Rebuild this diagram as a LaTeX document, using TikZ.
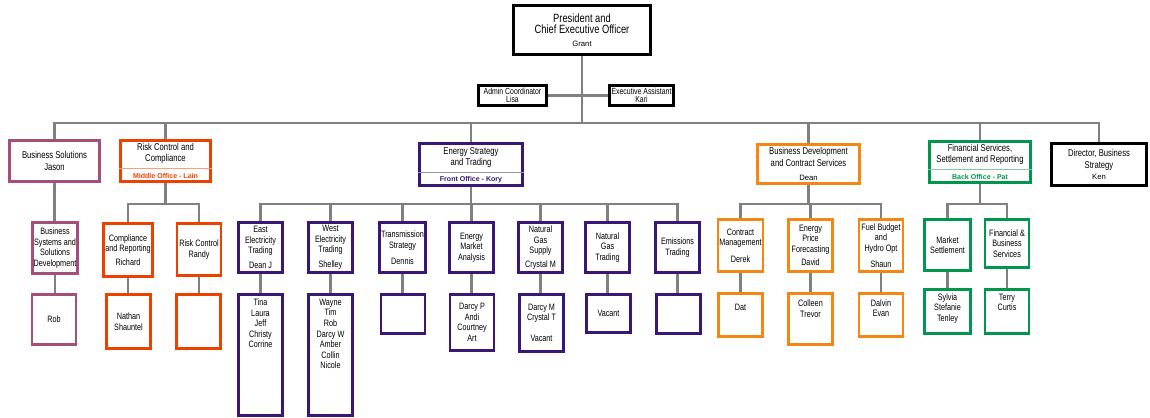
\documentclass[tikz,border=0pt]{standalone}
\usepackage{fontspec}
\setmainfont{Liberation Sans}
\newfontfamily\condfont{Liberation Sans}[FakeStretch=0.78]
\usetikzlibrary{positioning}
\definecolor{wiregray}{RGB}{128,128,128}
\definecolor{solpink}{RGB}{166,77,121}
\definecolor{riskred}{RGB}{238,65,0}
\definecolor{tradepurple}{RGB}{58,22,118}
\definecolor{devorange}{RGB}{246,134,20}
\definecolor{fingreen}{RGB}{0,150,75}
\newcommand\orgunitfont{\condfont\fontsize{6.6}{7.5}\selectfont}
\newcommand\orgheadfont{\condfont\fontsize{7}{8}\selectfont}
\newcommand\orgnamefont{\normalfont\fontsize{5.5}{6.5}\selectfont}
\newcommand\orgofficefont{\normalfont\bfseries\fontsize{5}{6}\selectfont}
\pgfdeclarelayer{background}
\pgfsetlayers{background,main}
\begin{document}
\begin{tikzpicture}[x=0.025cm, y=-0.025cm,
    unit/.style={draw, line width=2pt, fill=white, inner sep=1pt, align=center, font=\orgunitfont, minimum width=1.1cm},
    head/.style={unit, font=\orgheadfont},
    txt/.style={inner sep=1pt, align=center, font=\orgunitfont},
    office/.style={inner sep=0pt, minimum height=10pt, font=\orgofficefont},
    wire/.style={draw=wiregray, line width=2pt},
    sepline/.style={line width=0.6pt}]
    \useasboundingbox (0,0) rectangle (1150,418);
    % top of the chart
    \node[unit, minimum width=3.425cm, minimum height=1.225cm, line width=2.4pt, font=\condfont\fontsize{8.5}{8}\selectfont] (ceo) at (582,30) {President and\\Chief Executive Officer\\[1pt]{\orgnamefont Grant}};
    \node[unit, minimum width=1.7cm, minimum height=0.5cm, inner sep=0.5pt, font=\condfont\fontsize{6.3}{5.6}\selectfont] (admin) at (512.5,95.5) {Admin Coordinator\\Lisa};
    \node[unit, minimum width=1.6cm, minimum height=0.5cm, inner sep=0.5pt, font=\condfont\fontsize{6.3}{5.6}\selectfont] (exec) at (641.5,95.5) {Executive Assistant\\Kari};
    % departments
    \node[head, draw=solpink, minimum width=2.25cm, minimum height=1.025cm] (bizsol) at (54.5,161) {Business Solutions\\Jason};
    \node[head, draw=riskred, minimum width=2.25cm, minimum height=1.025cm] (risk) at (165.5,161) {};
    \node[txt, font=\orgheadfont, below=2pt of risk.north] (riskt) {Risk Control and\\Compliance};
    \node[office, text=riskred, above=0pt of risk.south] (risko) {Middle Office - Lain};
    \draw[sepline, riskred!50] (risk.west |- risko.north) -- (risk.east |- risko.north);
    \node[head, draw=tradepurple, minimum width=2.575cm, minimum height=1.05cm] (energy) at (471,164.5) {};
    \node[txt, font=\orgheadfont, below=2.5pt of energy.north] (energyt) {Energy Strategy\\and Trading};
    \node[office, text=tradepurple, above=0pt of energy.south] (energyo) {Front Office - Kory};
    \draw[sepline, tradepurple!50] (energy.west |- energyo.north) -- (energy.east |- energyo.north);
    \node[head, draw=devorange, minimum width=2.55cm, minimum height=0.975cm] (bizdev) at (808.5,164) {Business Development\\and Contract Services\\[2pt]{\orgnamefont Dean}};
    \node[head, draw=fingreen, minimum width=2.525cm, minimum height=1.025cm] (finsvc) at (980,162) {};
    \node[txt, font=\orgheadfont, below=1.5pt of finsvc.north] (finsvct) {Financial Services,\\Settlement and Reporting};
    \node[office, text=fingreen, above=0pt of finsvc.south] (finsvco) {Back Office - Pat};
    \draw[sepline, fingreen!50] (finsvc.west |- finsvco.north) -- (finsvc.east |- finsvco.north);
    \node[head, minimum width=2.375cm, minimum height=1.05cm] (director) at (1099,164.5) {Director, Business\\Strategy\\{\orgnamefont Ken}};
    % business solutions
    \node[unit, draw=solpink, minimum height=1.275cm] (bizsys) at (55,248) {Business\\Systems and\\Solutions\\Development};
    \node[unit, draw=solpink, minimum height=1.25cm] (rob) at (54,319.5) {Rob};
    % risk control
    \node[unit, draw=riskred, minimum height=1.325cm] (compl) at (128,250) {Compliance\\and Reporting\\[2pt]Richard};
    \node[unit, draw=riskred, minimum height=1.3cm] (randy) at (199,249.5) {Risk Control\\Randy};
    \node[unit, draw=riskred, minimum height=1.35cm] (nathan) at (128.5,321.5) {Nathan\\Shauntel};
    \node[unit, draw=riskred, minimum height=1.35cm] (riskx) at (198.5,321.5) {};
    % energy strategy and trading
    \node[unit, draw=tradepurple, minimum height=1.25cm] (east) at (260.5,247.5) {East\\Electricity\\Trading\\[3pt]Dean J};
    \node[unit, draw=tradepurple, minimum height=1.25cm] (west) at (330.5,247.5) {West\\Electricity\\Trading\\[3pt]Shelley};
    \node[unit, draw=tradepurple, minimum height=1.25cm, minimum width=1.15cm] (trans) at (402.5,247.5) {Transmission\\Strategy\\[4pt]Dennis};
    \node[unit, draw=tradepurple, minimum height=1.25cm] (ema) at (471.5,247.5) {Energy\\Market\\Analysis};
    \node[unit, draw=tradepurple, minimum height=1.25cm] (ngs) at (540.5,247.5) {Natural\\Gas\\Supply\\[2pt]Crystal M};
    \node[unit, draw=tradepurple, minimum height=1.25cm] (ngt) at (607.5,247.5) {Natural\\Gas\\Trading};
    \node[unit, draw=tradepurple, minimum height=1.25cm] (emis) at (677.5,247.5) {Emissions\\Trading};
    \node[unit, draw=tradepurple, minimum height=3.025cm] (eastl) at (260.5,355) {};
    \node[txt, below=3pt of eastl.north] (eastn) {Tina\\Laura\\Jeff\\Christy\\Corrine};
    \node[unit, draw=tradepurple, minimum height=3.025cm] (westl) at (330.5,355) {};
    \node[txt, below=3pt of westl.north] (westn) {Wayne\\Tim\\Rob\\Darcy W\\Amber\\Collin\\Nicole};
    \node[unit, draw=tradepurple, minimum height=0.975cm] (transx) at (403,314) {};
    \node[unit, draw=tradepurple, minimum height=1.4cm] (emal) at (472,322.5) {Darcy P\\Andi\\Courtney\\Art};
    \node[unit, draw=tradepurple, minimum height=1.425cm] (ngsl) at (541.5,323) {Darcy M\\Crystal T\\[7.5pt]Vacant};
    \node[unit, draw=tradepurple, minimum height=0.95cm] (ngtl) at (608.5,313.5) {Vacant};
    \node[unit, draw=tradepurple, minimum height=0.975cm] (emisx) at (678.5,314) {};
    % business development
    \node[unit, draw=devorange, minimum height=1.3cm] (contract) at (740.5,245.5) {Contract\\Management\\[4pt]Derek};
    \node[unit, draw=devorange, minimum height=1.3cm] (price) at (810.5,245.5) {Energy\\Price\\Forecasting\\[2pt]David};
    \node[unit, draw=devorange, minimum height=1.3cm] (fuel) at (881,245.5) {Fuel Budget\\and\\Hydro Opt\\[4pt]Shaun};
    \node[unit, draw=devorange, minimum height=1.075cm] (dat) at (740.5,315) {};
    \node[txt, below=7.5pt of dat.north] (datn) {Dat};
    \node[unit, draw=devorange, minimum height=1.275cm] (colleen) at (810.5,319) {};
    \node[txt, below=4.5pt of colleen.north] (colleenn) {Colleen\\Trevor};
    \node[unit, draw=devorange, minimum height=1.075cm] (dalvin) at (881,315) {};
    \node[txt, below=4pt of dalvin.north] (dalvinn) {Dalvin\\Evan};
    % financial services
    \node[unit, draw=fingreen, minimum height=1.275cm, minimum width=1.15cm] (market) at (947.5,245) {Market\\Settlement};
    \node[unit, draw=fingreen, minimum height=1.2cm] (finbiz) at (1007,243.5) {Financial \&\\Business\\Services};
    \node[unit, draw=fingreen, minimum height=1.1cm, minimum width=1.15cm] (sylvia) at (947.5,311.5) {};
    \node[txt, below=2.5pt of sylvia.north] (sylvian) {Sylvia\\Stefanie\\Tenley};
    \node[unit, draw=fingreen, minimum height=1.1cm] (terry) at (1007,311.5) {};
    \node[txt, below=3pt of terry.north] (terryn) {Terry\\Curtis};
    % connectors
    \begin{pgfonlayer}{background}
    \coordinate (bus) at (0,123);
    \coordinate (sub) at (0,204);
    \draw[wire] (ceo.south) -- (ceo.south |- bus);
    \draw[wire] (admin.east) -- (exec.west);
    \draw[wire] (bizsol.north) |- (bus -| director.north) -- (director.north);
    \foreach \n in {risk,energy,bizdev,finsvc}
        \draw[wire] (\n.north) -- (\n.north |- bus);
    \draw[wire] (bizsol.south) -- (bizsol.south |- bizsys.north);
    \foreach \n in {risk,energy,bizdev,finsvc}
        \draw[wire] (\n.south) -- (\n.south |- sub);
    \draw[wire] (compl.north) |- (sub -| randy.north) -- (randy.north);
    \draw[wire] (east.north) |- (sub -| emis.north) -- (emis.north);
    \draw[wire] (contract.north) |- (sub -| fuel.north) -- (fuel.north);
    \draw[wire] (market.north) |- (sub -| finbiz.north) -- (finbiz.north);
    \foreach \n in {west,trans,ema,ngs,ngt,price}
        \draw[wire] (\n.north) -- (\n.north |- sub);
    \foreach \a/\b in {bizsys/rob,compl/nathan,randy/riskx,east/eastl,west/westl,trans/transx,ema/emal,ngs/ngsl,ngt/ngtl,emis/emisx,contract/dat,price/colleen,fuel/dalvin,market/sylvia,finbiz/terry}
        \draw[wire] (\a.south) -- (\a.south |- \b.north);
    \end{pgfonlayer}
\end{tikzpicture}
\end{document}
